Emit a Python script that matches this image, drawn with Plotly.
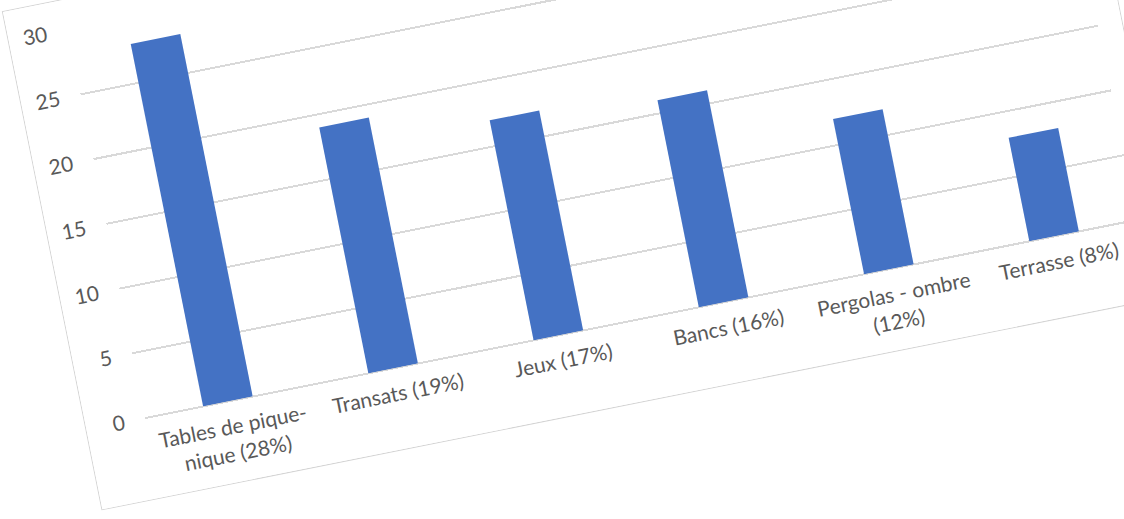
import plotly.graph_objects as go

categories = [
    "Tables de pique-<br>nique (28%)",
    "Transats (19%)",
    "Jeux (17%)",
    "Bancs (16%)",
    "Pergolas - ombre<br>(12%)",
    "Terrasse (8%)",
]
values = [28, 19, 17, 16, 12, 8]
y_ticks = [0, 5, 10, 15, 20, 25, 30]

BAR_COLOR = "#4472C4"
TEXT_COLOR = "#595959"
GRID_COLOR = "#d9d9d9"

fig = go.Figure(
    go.Bar(x=categories, y=values, marker=dict(color=BAR_COLOR, line=dict(width=0)))
)

fig.update_layout(
    width=1095,
    height=507,
    margin=dict(l=60, r=24, t=30, b=81),
    paper_bgcolor="white",
    plot_bgcolor="white",
    bargap=0.7,
    showlegend=False,
    font=dict(family="Lato, 'Open Sans', sans-serif", size=21, color=TEXT_COLOR),
)
fig.update_xaxes(
    showgrid=False,
    showline=False,
    ticks="",
    ticklabelstandoff=11,
    tickangle=0,
)
fig.update_yaxes(
    range=[0, 30],
    tickvals=y_ticks,
    showgrid=True,
    gridcolor=GRID_COLOR,
    gridwidth=1.6,
    zeroline=True,
    zerolinecolor=GRID_COLOR,
    zerolinewidth=1.6,
    showline=False,
    ticks="",
    ticklabelstandoff=20,
)

post = (
    "var d=document.getElementById('{plot_id}');"
    "document.documentElement.style.overflow='hidden';"
    "document.body.style.margin='0';document.body.style.overflow='hidden';"
    "document.body.style.background='white';"
    "d.style.position='absolute';d.style.left='3px';d.style.top='12px';"
    "d.style.transformOrigin='0 0';d.style.transform='rotate(-11.3deg)';"
    "d.style.outline='1.5px solid #d4d4d4';"
)

fig.write_html("out.html", config={"displayModeBar": False}, post_script=post)
